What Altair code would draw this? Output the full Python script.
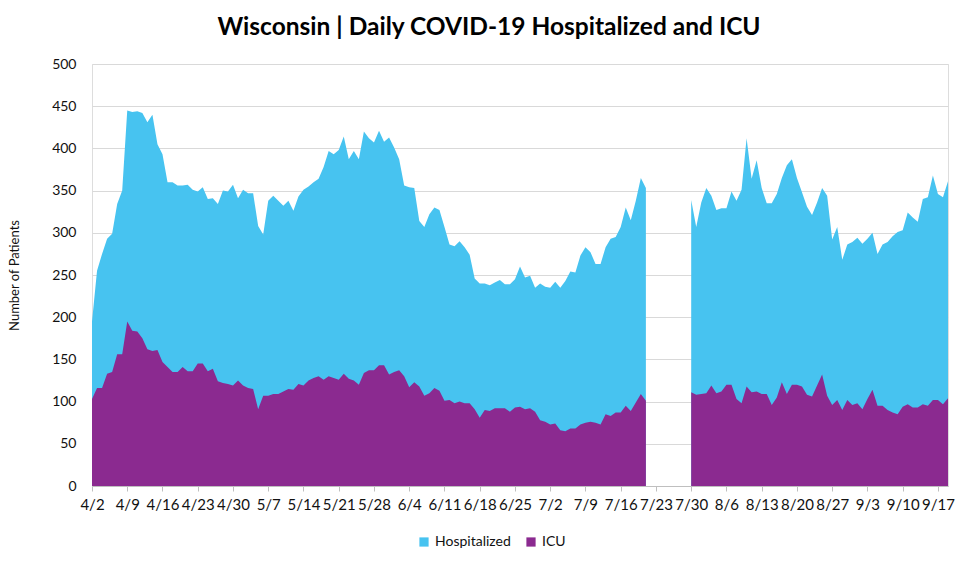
import altair as alt
import pandas as pd

start_date = "2020-04-02"

hospitalized = [
    195, 255, 275, 293, 299, 334, 350, 445, 443, 444,
    442, 431, 440, 405, 393, 360, 360, 356, 356, 357,
    351, 349, 354, 340, 341, 334, 350, 349, 357, 341,
    351, 347, 347, 308, 298, 338, 344, 338, 332, 338,
    326, 343, 351, 355, 360, 364, 378, 397, 393, 398,
    414, 387, 397, 387, 420, 412, 407, 421, 408, 413,
    401, 387, 356, 354, 353, 314, 307, 322, 330, 327,
    307, 286, 284, 290, 283, 274, 246, 240, 240, 238,
    241, 244, 239, 239, 245, 260, 247, 249, 235, 240,
    236, 235, 242, 235, 243, 254, 253, 273, 283, 277,
    263, 263, 283, 293, 295, 307, 330, 315, 338, 365, 353,
    None, None, None, None, None, None, None, None,
    339, 307, 336, 353, 344, 327, 329, 329, 349, 338,
    351, 412, 364, 386, 353, 335, 335, 346, 365, 380,
    387, 365, 348, 331, 321, 336, 353, 344, 292, 307,
    268, 286, 289, 294, 287, 293, 300, 275, 286, 289,
    296, 301, 303, 324, 318, 313, 340, 342, 368, 346, 342, 361,
]

icu = [
    103, 116, 116, 133, 135, 156, 156, 195, 184, 183,
    175, 162, 160, 161, 147, 141, 135, 135, 141, 136,
    136, 145, 145, 136, 139, 124, 122, 121, 119, 125,
    119, 116, 115, 91, 107, 107, 109, 109, 112, 115,
    114, 121, 119, 125, 128, 130, 126, 130, 128, 126,
    133, 127, 125, 120, 134, 137, 137, 143, 143, 132,
    135, 137, 130, 117, 123, 118, 107, 110, 116, 113,
    101, 102, 98, 100, 98, 98, 91, 81, 90, 89,
    92, 92, 92, 88, 93, 94, 91, 92, 88, 78,
    76, 73, 74, 66, 65, 68, 68, 73, 75, 76,
    75, 73, 85, 83, 87, 87, 95, 89, 99, 109, 101,
    None, None, None, None, None, None, None, None,
    111, 108, 109, 110, 119, 110, 112, 120, 120, 103,
    98, 118, 111, 112, 109, 109, 96, 105, 123, 109,
    120, 120, 118, 108, 106, 119, 132, 107, 96, 102,
    90, 102, 96, 98, 91, 103, 114, 95, 95, 90,
    87, 85, 94, 97, 93, 93, 97, 95, 102, 102, 97, 104,
]

tick_labels = ["4/2", "4/9", "4/16", "4/23", "4/30", "5/7", "5/14", "5/21", "5/28",
               "6/4", "6/11", "6/18", "6/25", "7/2", "7/9", "7/16", "7/23", "7/30",
               "8/6", "8/13", "8/20", "8/27", "9/3", "9/10", "9/17"]

series_names = ["Hospitalized", "ICU"]
series_colors = ["#47C3F0", "#8B2A90"]

dates = pd.date_range(start_date, periods=len(hospitalized), freq="D")
rows = []
for series, values in zip(series_names, [hospitalized, icu]):
    seg = 0
    prev_none = False
    for d, v in zip(dates, values):
        if v is None:
            prev_none = True
            continue
        if prev_none:
            seg += 1
            prev_none = False
        rows.append({"date": d.strftime("%Y-%m-%d"), "value": v,
                     "series": series, "segment": seg})
df = pd.DataFrame(rows)

tick_dates = [alt.DateTime(year=2020, month=int(t.split("/")[0]), date=int(t.split("/")[1]), utc=True)
              for t in tick_labels]

FONT = "Lato"

x = alt.X("date:T",
          scale=alt.Scale(type="utc",
                          domain=[alt.DateTime(year=2020, month=4, date=2, utc=True),
                                  alt.DateTime(year=2020, month=9, date=19, utc=True)]),
          axis=alt.Axis(values=tick_dates,
                        labelExpr="(utcmonth(datum.value) + 1) + '/' + utcdate(datum.value)",
                        title=None, grid=False, domainColor="#bfbfbf",
                        tickColor="#bfbfbf", tickSize=5, labelPadding=6,
                        labelFontSize=15, labelFont=FONT, labelColor="#111111",
                        labelFlush=False, labelOverlap=False))
y = alt.Y("value:Q", stack=None,
          scale=alt.Scale(domain=[0, 500], nice=False),
          axis=alt.Axis(values=list(range(0, 501, 50)), title="Number of Patients",
                        titleFont=FONT, titleFontSize=13, titleFontWeight="normal",
                        titleColor="#111111", titlePadding=30,
                        domain=False, ticks=False, labelPadding=16,
                        labelFontSize=14, labelFont=FONT, labelColor="#111111",
                        gridColor="#d9d9d9"))
color = alt.Color("series:N",
                  scale=alt.Scale(domain=series_names, range=series_colors),
                  legend=alt.Legend(title=None, orient="none", legendX=325, legendY=471,
                                    direction="horizontal", symbolType="square",
                                    symbolSize=85, symbolStrokeWidth=0,
                                    labelFontSize=14, labelFont=FONT,
                                    labelColor="#111111", columnPadding=13,
                                    labelOffset=4))

base = alt.Chart(df)
hosp_layer = base.transform_filter(alt.datum.series == "Hospitalized").mark_area(
    opacity=1, interpolate="linear").encode(x=x, y=y, color=color, detail="segment:N")
icu_layer = base.transform_filter(alt.datum.series == "ICU").mark_area(
    opacity=1, interpolate="linear").encode(x=x, y=y, color=color, detail="segment:N")

chart = alt.layer(hosp_layer, icu_layer).properties(
    width=856, height=422,
    title=alt.TitleParams("Wisconsin | Daily COVID-19 Hospitalized and ICU",
                          font="Lato", fontSize=24.5, fontWeight="bold",
                          color="#000000", anchor="middle", offset=17, dx=-31),
    autosize=alt.AutoSizeParams(type="none"),
    padding={"left": 92, "top": 64, "right": 32, "bottom": 75},
).configure_view(stroke=None).configure(background="white")

chart.save("out.html", embed_options={"renderer": "svg", "actions": False})
